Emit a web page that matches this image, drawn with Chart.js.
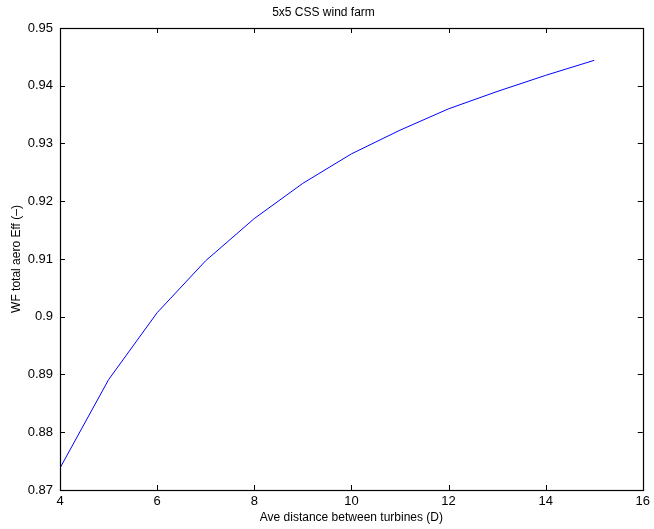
<!DOCTYPE html>
<html>
<head>
<meta charset="utf-8">
<script src="https://cdn.jsdelivr.net/npm/chart.js@4"></script>
<style>
  html, body { margin: 0; padding: 0; background: #fff; }
  #wrap { width: 654px; height: 529px; }
</style>
</head>
<body>
<div id="wrap"><canvas id="plot" width="654" height="529"></canvas></div>
<script>
// values
var distance = [4, 5, 6, 7, 8, 9, 10, 11, 12, 13, 14, 15];
var efficiency = [0.8738, 0.8891, 0.9007, 0.9097, 0.9170, 0.9231, 0.9282, 0.9323, 0.9360, 0.9390, 0.9418, 0.9444];
var xTicks = [4, 6, 8, 10, 12, 14, 16];
var yTicks = [0.87, 0.88, 0.89, 0.9, 0.91, 0.92, 0.93, 0.94, 0.95];

var fontFam = '"Liberation Sans", Arial, Helvetica, sans-serif';

// matlab style box + inward ticks
var boxTicks = {
  id: 'boxTicks',
  afterDraw: function(chart) {
    var ctx = chart.ctx, a = chart.chartArea;
    var xs = chart.scales.x, ys = chart.scales.y;
    ctx.save();
    ctx.strokeStyle = '#000';
    ctx.lineWidth = 1;
    ctx.beginPath();
    xs.ticks.forEach(function(t) {
      var px = Math.round(xs.getPixelForValue(t.value)) + 0.5;
      ctx.moveTo(px, a.bottom); ctx.lineTo(px, a.bottom - 5);
      ctx.moveTo(px, a.top); ctx.lineTo(px, a.top + 5);
    });
    ys.ticks.forEach(function(t) {
      var py = Math.round(ys.getPixelForValue(t.value)) + 0.5;
      ctx.moveTo(a.left, py); ctx.lineTo(a.left + 5, py);
      ctx.moveTo(a.right, py); ctx.lineTo(a.right - 5, py);
    });
    ctx.stroke();
    ctx.lineWidth = 1.2;
    ctx.strokeRect(Math.round(a.left) + 0.5, Math.round(a.top) + 0.5,
                   Math.round(a.right - a.left), Math.round(a.bottom - a.top));
    ctx.restore();
  }
};

new Chart(document.getElementById('plot'), {
  type: 'line',
  data: {
    datasets: [{
      data: distance.map(function(d, i) { return { x: d, y: efficiency[i] }; }),
      borderColor: '#0000ff',
      borderWidth: 1,
      pointRadius: 0,
      tension: 0,
      fill: false
    }]
  },
  options: {
    responsive: false,
    animation: false,
    layout: { padding: { left: 0, right: 7, top: 0, bottom: 0 } },
    plugins: {
      legend: { display: false },
      tooltip: { enabled: false },
      title: {
        display: true,
        text: '5x5 CSS wind farm',
        color: '#000',
        font: { family: fontFam, size: 12, weight: 'normal' },
        padding: { top: 5, bottom: 8.6 }
      }
    },
    scales: {
      x: {
        type: 'linear',
        min: 4, max: 16,
        afterBuildTicks: function(s) { s.ticks = xTicks.map(function(v) { return { value: v }; }); },
        afterFit: function(s) { s.height = 39; },
        grid: { display: false, drawTicks: false },
        border: { display: false },
        ticks: {
          color: '#000', padding: 4,
          font: { family: fontFam, size: 13 },
          maxRotation: 0,
          callback: function(v) { return String(v); }
        },
        title: {
          display: true, text: 'Ave distance between turbines (D)', color: '#000',
          font: { family: fontFam, size: 12 }, padding: { top: 0, bottom: 4 }
        }
      },
      y: {
        min: 0.87, max: 0.95,
        afterBuildTicks: function(s) { s.ticks = yTicks.map(function(v) { return { value: v }; }); },
        afterFit: function(s) { s.width = 60; },
        grid: { display: false, drawTicks: false },
        border: { display: false },
        ticks: {
          color: '#000', padding: 7,
          font: { family: fontFam, size: 13 },
          callback: function(v) { return String(+v.toFixed(2)); }
        },
        title: {
          display: true, text: 'WF total aero Eff (\u2013)', color: '#000',
          font: { family: fontFam, size: 12 }, padding: { top: 9, bottom: 0 }
        }
      }
    }
  },
  plugins: [boxTicks]
});
</script>
</body>
</html>
